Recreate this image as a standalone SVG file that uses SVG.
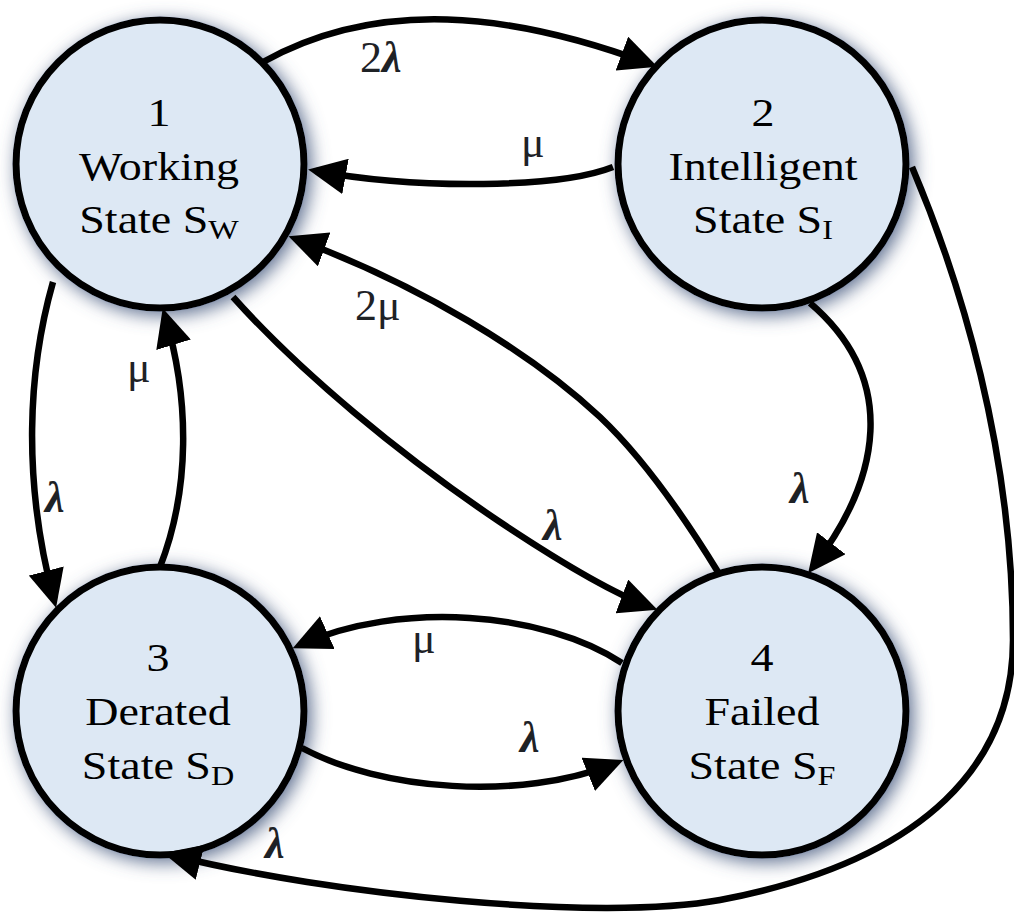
<svg xmlns="http://www.w3.org/2000/svg" width="1014" height="915" viewBox="0 0 1014 915">
  <style>
    .node { fill: #dde8f4; stroke: #000; stroke-width: 7; filter: url(#glow); }
    .name { font-size: 40px; fill: #000; text-anchor: middle; }
    .sub { font-size: 28px; }
    .edge { fill: none; stroke: #000; stroke-width: 6.5; stroke-linejoin: round; marker-end: url(#arrow); }
    .rate { font-size: 44px; fill: #1e2226; }
    .lam { font-style: italic; font-weight: bold; }
  </style>
  <defs>
    <filter id="glow" x="-25%" y="-25%" width="150%" height="150%">
      <feGaussianBlur in="SourceAlpha" stdDeviation="9"/>
      <feOffset dx="4" dy="4" result="blur"/>
      <feFlood flood-color="#56688a" flood-opacity="0.95"/>
      <feComposite in2="blur" operator="in"/>
      <feMerge>
        <feMergeNode/>
        <feMergeNode in="SourceGraphic"/>
      </feMerge>
    </filter>
    <marker id="arrow" markerUnits="userSpaceOnUse" markerWidth="38" markerHeight="36" viewBox="0 0 38 36" refX="30" refY="18" orient="auto">
      <path d="M0,0 L38,18 L0,36 z" fill="#000"/>
    </marker>
  </defs>

  <!-- states -->
  <g id="node1" font-family="Liberation Serif, DejaVu Serif, serif">
    <circle class="node" cx="160" cy="164" r="144"/>
    <g transform="translate(159,0) scale(1.15,1)">
      <text class="name" x="0" y="126">1</text>
      <text class="name" x="0" y="180">Working</text>
      <text class="name" x="0" y="233">State S<tspan class="sub" dy="6">W</tspan></text>
    </g>
  </g>
  <g id="node2" font-family="Liberation Serif, DejaVu Serif, serif">
    <circle class="node" cx="762" cy="164" r="144"/>
    <g transform="translate(763,0) scale(1.15,1)">
      <text class="name" x="0" y="126">2</text>
      <text class="name" x="0" y="180">Intelligent</text>
      <text class="name" x="0" y="233">State S<tspan class="sub" dy="6">I</tspan></text>
    </g>
  </g>
  <g id="node3" font-family="Liberation Serif, DejaVu Serif, serif">
    <circle class="node" cx="160" cy="711" r="144"/>
    <g transform="translate(158,0) scale(1.15,1)">
      <text class="name" x="0" y="671">3</text>
      <text class="name" x="0" y="725">Derated</text>
      <text class="name" x="0" y="779">State S<tspan class="sub" dy="6">D</tspan></text>
    </g>
  </g>
  <g id="node4" font-family="Liberation Serif, DejaVu Serif, serif">
    <circle class="node" cx="762" cy="711" r="144"/>
    <g transform="translate(762,0) scale(1.15,1)">
      <text class="name" x="0" y="671">4</text>
      <text class="name" x="0" y="725">Failed</text>
      <text class="name" x="0" y="779">State S<tspan class="sub" dy="6">F</tspan></text>
    </g>
  </g>

  <!-- transitions -->
  <g id="connectors">
    <path class="edge" d="M263,62 C378,-2 510,12 650,64"/>
    <path class="edge" d="M613,167 C560,188 420,190 316,171"/>
    <path class="edge" d="M718,572 C680,510 640,455 600,417 C530,352 420,285 296,239"/>
    <path class="edge" d="M233,297 C300,372 400,455 500,522 C560,562 610,592 650,607"/>
    <path class="edge" d="M53,282 C28,370 22,480 54,600"/>
    <path class="edge" d="M160,567 C190,490 190,400 165,316"/>
    <path class="edge" d="M810,303 C900,380 880,480 813,567"/>
    <path class="edge" d="M622,663 C545,612 400,600 300,645"/>
    <path class="edge" d="M302,748 C380,790 520,802 616,763"/>
    <path class="edge" d="M912,167 C960,280 1013,450 1013,640 C1013,760 930,860 720,900 C600,922 330,895 171,855"/>
  </g>

  <!-- rates -->
  <g id="labels" font-family="Liberation Serif, DejaVu Serif, serif">
    <text class="rate" x="360" y="72">2<tspan class="lam">λ</tspan></text>
    <text class="rate" x="521" y="157">μ</text>
    <text class="rate" x="355" y="320">2μ</text>
    <text class="rate" x="127" y="382">μ</text>
    <text class="rate lam" x="45" y="512">λ</text>
    <text class="rate lam" x="543" y="540">λ</text>
    <text class="rate lam" x="790" y="503">λ</text>
    <text class="rate" x="412" y="653">μ</text>
    <text class="rate lam" x="520" y="752">λ</text>
    <text class="rate lam" x="265" y="858">λ</text>
  </g>
</svg>
